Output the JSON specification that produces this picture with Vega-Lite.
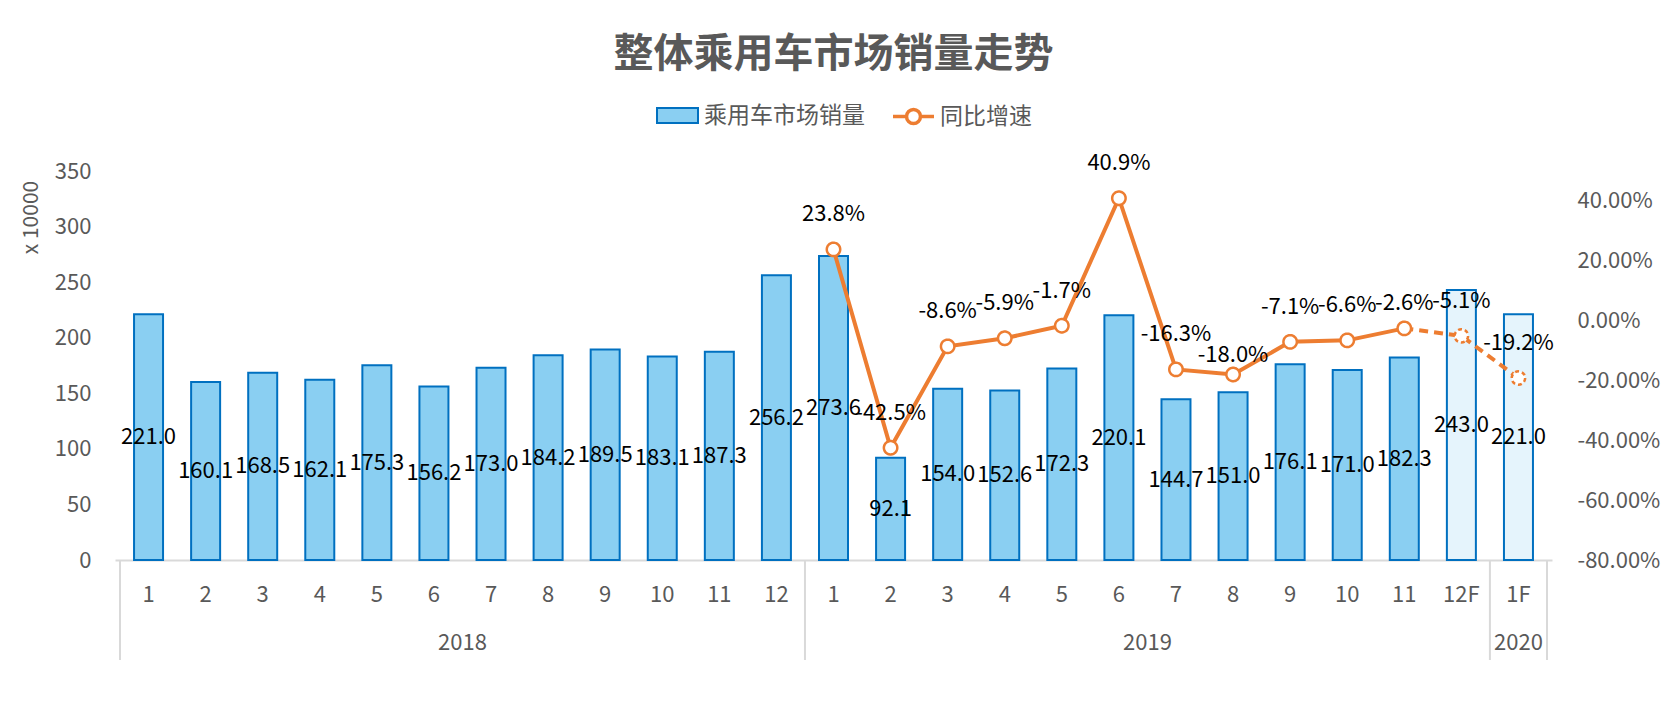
{
  "$schema": "https://vega.github.io/schema/vega-lite/v6.json",
  "width": 1437,
  "height": 389,
  "autosize": "none",
  "padding": {"left": 115, "top": 171, "right": 115, "bottom": 154},
  "background": "#ffffff",
  "config": {
    "view": {"stroke": null},
    "font": "Noto Sans CJK SC",
    "locale": {"number": {"decimal": ".", "thousands": ",", "grouping": [3], "currency": ["$", ""], "minus": "-"}}
  },
  "title": {
    "text": "整体乘用车市场销量走势",
    "font": "Noto Sans CJK SC",
    "fontSize": 40,
    "fontWeight": "bold",
    "color": "#595959",
    "anchor": "middle",
    "offset": 19
  },
  "datasets": {
    "sales": [
      {"i": 1, "year": "2018", "m": "1", "v": 221.0, "f": false},
      {"i": 2, "year": "2018", "m": "2", "v": 160.1, "f": false},
      {"i": 3, "year": "2018", "m": "3", "v": 168.5, "f": false},
      {"i": 4, "year": "2018", "m": "4", "v": 162.1, "f": false},
      {"i": 5, "year": "2018", "m": "5", "v": 175.3, "f": false},
      {"i": 6, "year": "2018", "m": "6", "v": 156.2, "f": false},
      {"i": 7, "year": "2018", "m": "7", "v": 173.0, "f": false},
      {"i": 8, "year": "2018", "m": "8", "v": 184.2, "f": false},
      {"i": 9, "year": "2018", "m": "9", "v": 189.5, "f": false},
      {"i": 10, "year": "2018", "m": "10", "v": 183.1, "f": false},
      {"i": 11, "year": "2018", "m": "11", "v": 187.3, "f": false},
      {"i": 12, "year": "2018", "m": "12", "v": 256.2, "f": false},
      {"i": 13, "year": "2019", "m": "1", "v": 273.6, "f": false},
      {"i": 14, "year": "2019", "m": "2", "v": 92.1, "f": false},
      {"i": 15, "year": "2019", "m": "3", "v": 154.0, "f": false},
      {"i": 16, "year": "2019", "m": "4", "v": 152.6, "f": false},
      {"i": 17, "year": "2019", "m": "5", "v": 172.3, "f": false},
      {"i": 18, "year": "2019", "m": "6", "v": 220.1, "f": false},
      {"i": 19, "year": "2019", "m": "7", "v": 144.7, "f": false},
      {"i": 20, "year": "2019", "m": "8", "v": 151.0, "f": false},
      {"i": 21, "year": "2019", "m": "9", "v": 176.1, "f": false},
      {"i": 22, "year": "2019", "m": "10", "v": 171.0, "f": false},
      {"i": 23, "year": "2019", "m": "11", "v": 182.3, "f": false},
      {"i": 24, "year": "2019", "m": "12F", "v": 243.0, "f": true},
      {"i": 25, "year": "2020", "m": "1F", "v": 221.0, "f": true}
    ],
    "growth": [
      {"i": 13, "g": 0.238, "f": false},
      {"i": 14, "g": -0.425, "f": false},
      {"i": 15, "g": -0.086, "f": false},
      {"i": 16, "g": -0.059, "f": false},
      {"i": 17, "g": -0.017, "f": false},
      {"i": 18, "g": 0.409, "f": false},
      {"i": 19, "g": -0.163, "f": false},
      {"i": 20, "g": -0.180, "f": false},
      {"i": 21, "g": -0.071, "f": false},
      {"i": 22, "g": -0.066, "f": false},
      {"i": 23, "g": -0.026, "f": false},
      {"i": 24, "g": -0.051, "f": true},
      {"i": 25, "g": -0.192, "f": true}
    ],
    "seps": [{"x": 0.5}, {"x": 12.5}, {"x": 24.5}, {"x": 25.5}]
  },
  "resolve": {"scale": {"y": "independent"}, "axis": {"y": "independent"}},
  "layer": [
    {
      "data": {"name": "sales"},
      "mark": {"type": "bar", "orient": "vertical", "size": 29, "stroke": "#0070C0", "strokeWidth": 2},
      "encoding": {
        "x": {
          "field": "i", "type": "quantitative",
          "scale": {"domain": [0.5, 25.5], "nice": false, "zero": false},
          "axis": {"labels": false, "ticks": false, "grid": false, "title": null, "domainColor": "#D9D9D9", "domainWidth": 2}
        },
        "y": {
          "field": "v", "type": "quantitative",
          "scale": {"domain": [0, 350], "nice": false},
          "axis": {
            "values": [0, 50, 100, 150, 200, 250, 300, 350],
            "grid": false, "domain": false, "ticks": false,
            "labelFontSize": 22, "labelColor": "#595959", "labelPadding": 24, "labelFont": "Noto Sans CJK SC",
            "title": "x 10000", "titleFontSize": 21, "titleFontWeight": "normal", "titleColor": "#595959",
            "titleFont": "Noto Sans CJK SC", "titleX": -84, "titleY": 46, "titleAngle": -90,
            "titleAlign": "center", "titleBaseline": "middle"
          }
        },
        "fill": {
          "datum": "乘用车市场销量",
          "scale": {"domain": ["乘用车市场销量"], "range": ["#8ACFF2"]},
          "legend": {
            "orient": "none", "legendX": 541, "legendY": -77, "title": null,
            "symbolSize": 1681, "symbolType": "M-1,-0.37H1V0.37H-1Z",
            "symbolStrokeColor": "#0070C0", "symbolStrokeWidth": 2,
            "labelFontSize": 23, "labelColor": "#595959", "labelFont": "Noto Sans CJK SC",
            "labelOffset": 5, "labelLimit": 400
          }
        },
        "fillOpacity": {"condition": {"test": "datum.f", "value": 0.22}, "value": 1}
      }
    },
    {
      "data": {"name": "sales"},
      "mark": {"type": "text", "fontSize": 22, "color": "#000000", "baseline": "middle", "font": "Noto Sans CJK SC"},
      "encoding": {
        "x": {"field": "i", "type": "quantitative"},
        "y": {"field": "v", "type": "quantitative", "scale": {"domain": [0, 700], "nice": false}, "axis": null},
        "text": {"field": "v", "type": "quantitative", "format": ".1f"}
      }
    },
    {
      "data": {"name": "sales"},
      "mark": {"type": "text", "fontSize": 22, "color": "#595959", "baseline": "middle", "font": "Noto Sans CJK SC"},
      "encoding": {
        "x": {"field": "i", "type": "quantitative"},
        "y": {"datum": -31.5, "type": "quantitative", "scale": {"domain": [0, 350], "nice": false}, "axis": null},
        "text": {"field": "m", "type": "nominal"}
      }
    },
    {
      "data": {"name": "sales"},
      "transform": [{"aggregate": [{"op": "mean", "field": "i", "as": "c"}], "groupby": ["year"]}],
      "mark": {"type": "text", "fontSize": 22, "color": "#595959", "baseline": "middle", "font": "Noto Sans CJK SC"},
      "encoding": {
        "x": {"field": "c", "type": "quantitative"},
        "y": {"datum": -75, "type": "quantitative", "scale": {"domain": [0, 350], "nice": false}, "axis": null},
        "text": {"field": "year", "type": "nominal"}
      }
    },
    {
      "data": {"name": "seps"},
      "mark": {"type": "rule", "color": "#D9D9D9", "strokeWidth": 2},
      "encoding": {
        "x": {"field": "x", "type": "quantitative"},
        "y": {"datum": 0, "type": "quantitative", "scale": {"domain": [0, 350], "nice": false}, "axis": null},
        "y2": {"datum": -90}
      }
    },
    {
      "data": {"name": "growth"},
      "transform": [{"filter": "datum.i <= 23"}],
      "mark": {"type": "line", "strokeWidth": 4},
      "encoding": {
        "x": {"field": "i", "type": "quantitative"},
        "y": {
          "field": "g", "type": "quantitative",
          "scale": {"domain": [-0.8, 0.5], "nice": false, "zero": false},
          "axis": {
            "orient": "right", "values": [-0.8, -0.6, -0.4, -0.2, 0, 0.2, 0.4], "format": ".2%",
            "grid": false, "domain": false, "ticks": false, "title": null,
            "labelFontSize": 22, "labelColor": "#595959", "labelPadding": 25, "labelFont": "Noto Sans CJK SC"
          }
        },
        "stroke": {
          "datum": "同比增速",
          "scale": {"domain": ["同比增速"], "range": ["#ED7D31"]},
          "legend": {
            "orient": "none", "legendX": 776, "legendY": -77, "title": null,
            "symbolSize": 1681,
            "symbolType": "M-1,0H-0.34M0.34,0H1M0.34,0A0.34,0.34,0,1,1,-0.34,0A0.34,0.34,0,1,1,0.34,0",
            "symbolFillColor": "#ffffff", "symbolStrokeWidth": 3.5,
            "labelFontSize": 23, "labelColor": "#595959", "labelFont": "Noto Sans CJK SC",
            "labelOffset": 4, "labelLimit": 400
          }
        }
      }
    },
    {
      "data": {"name": "growth"},
      "transform": [{"filter": "datum.i >= 23"}],
      "mark": {"type": "line", "strokeWidth": 4, "strokeDash": [9, 6], "stroke": "#ED7D31"},
      "encoding": {
        "x": {"field": "i", "type": "quantitative"},
        "y": {"field": "g", "type": "quantitative", "scale": {"domain": [-0.8, 0.5], "nice": false, "zero": false}, "axis": null}
      }
    },
    {
      "data": {"name": "growth"},
      "mark": {"type": "point", "shape": "circle", "size": 180, "filled": true, "fill": "#ffffff", "stroke": "#ED7D31", "strokeWidth": 2.5, "opacity": 1},
      "encoding": {
        "x": {"field": "i", "type": "quantitative"},
        "y": {"field": "g", "type": "quantitative", "scale": {"domain": [-0.8, 0.5], "nice": false, "zero": false}, "axis": null},
        "strokeDash": {"condition": {"test": "datum.f", "value": [4, 3]}, "value": [1, 0]}
      }
    },
    {
      "data": {"name": "growth"},
      "transform": [{"filter": "datum.i != 20 && datum.i != 23"}],
      "mark": {"type": "text", "fontSize": 22, "color": "#000000", "baseline": "middle", "dy": -35, "font": "Noto Sans CJK SC"},
      "encoding": {
        "x": {"field": "i", "type": "quantitative"},
        "y": {"field": "g", "type": "quantitative", "scale": {"domain": [-0.8, 0.5], "nice": false, "zero": false}, "axis": null},
        "text": {"field": "g", "type": "quantitative", "format": ".1%"}
      }
    },
    {
      "data": {"name": "growth"},
      "transform": [{"filter": "datum.i == 20"}],
      "mark": {"type": "text", "fontSize": 22, "color": "#000000", "baseline": "middle", "dy": -19, "font": "Noto Sans CJK SC"},
      "encoding": {
        "x": {"field": "i", "type": "quantitative"},
        "y": {"field": "g", "type": "quantitative", "scale": {"domain": [-0.8, 0.5], "nice": false, "zero": false}, "axis": null},
        "text": {"field": "g", "type": "quantitative", "format": ".1%"}
      }
    },
    {
      "data": {"name": "growth"},
      "transform": [{"filter": "datum.i == 23"}],
      "mark": {"type": "text", "fontSize": 22, "color": "#000000", "baseline": "middle", "dy": -25, "font": "Noto Sans CJK SC"},
      "encoding": {
        "x": {"field": "i", "type": "quantitative"},
        "y": {"field": "g", "type": "quantitative", "scale": {"domain": [-0.8, 0.5], "nice": false, "zero": false}, "axis": null},
        "text": {"field": "g", "type": "quantitative", "format": ".1%"}
      }
    }
  ]
}
